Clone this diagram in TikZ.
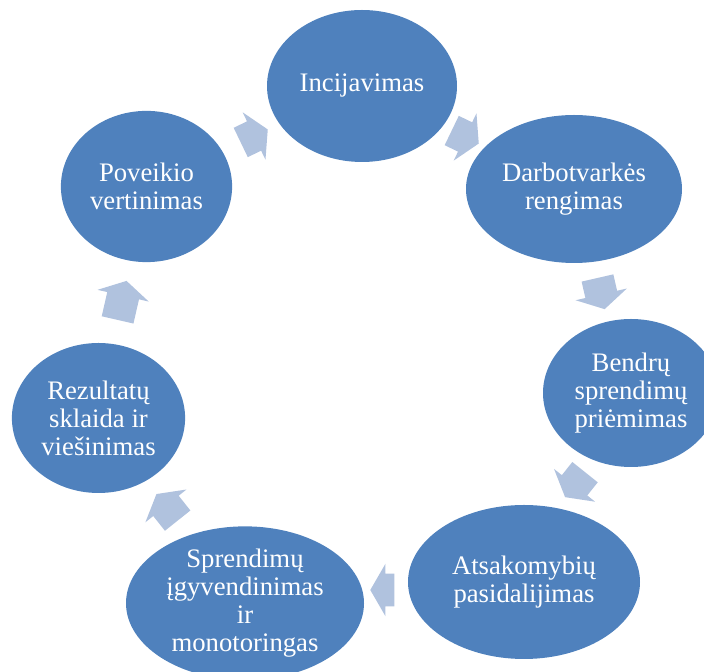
\documentclass[tikz,border=0pt]{standalone}
\usepackage{fontspec}
\setmainfont{Liberation Serif}
\usetikzlibrary{shapes.geometric,shapes.arrows}
\definecolor{stageBlue}{RGB}{79,129,189}
\definecolor{flowArrow}{RGB}{176,194,222}

\begin{document}
\begin{tikzpicture}[
  st/.style={ellipse, fill=stageBlue, inner sep=0pt, text=white, align=center,
             font=\fontsize{19}{20}\selectfont},
  fw/.style={single arrow, fill=flowArrow, inner xsep=0pt, inner ysep=0.4cm,
             minimum width=1.3cm, single arrow head extend=0.25cm,
             single arrow tip angle=120},
]
\useasboundingbox (0,0) rectangle (17.6,16.8);
\clip (0,0) rectangle (17.6,16.8);

% ============ stages, clockwise from the top ============
\node[st, minimum width=4.75cm, minimum height=3.8cm]  (s1) at (9.05,14.65)   {Incijavimas};
\node[st, minimum width=5.4cm,  minimum height=3.7cm]  (s2) at (14.35,12.075)  {Darbotvarkės\\rengimas};
\node[st, minimum width=4.4cm,  minimum height=3.7cm]  (s3) at (15.775,6.975)  {Bendrų\\sprendimų\\priėmimas};
\node[st, minimum width=5.8cm,  minimum height=3.85cm] (s4) at (13.1,2.25)     {Atsakomybių\\pasidalijimas};
\node[st, minimum width=5.95cm, minimum height=3.8cm]  (s5) at (6.125,1.72)    {Sprendimų\\įgyvendinimas\\ir\\monotoringas};
\node[st, minimum width=4.33cm, minimum height=3.75cm] (s6) at (2.4625,6.35)   {Rezultatų\\sklaida ir\\viešinimas};
\node[st, minimum width=4.28cm, minimum height=3.78cm] (s7) at (3.6625,12.1375) {Poveikio\\vertinimas};

% ============ block arrows between the stages ============
\node[fw, minimum height=0.75cm, rotate=25.7]   (a71) at (6.25,13.35)   {};
\node[fw, minimum height=0.75cm, rotate=-25.7]  (a12) at (11.525,13.425) {};
\node[fw, minimum height=0.8cm,  rotate=-77.1]  (a23) at (15.0,9.575)   {};
\node[fw, minimum height=0.8cm,  rotate=-128.6] (a34) at (14.45,4.775)  {};
\node[fw, minimum height=0.6cm,  rotate=180]    (a45) at (9.675,2.05)   {};
\node[fw, minimum height=0.85cm, rotate=128.6]  (a56) at (4.25,4.025)   {};
\node[fw, minimum height=1.0cm,  rotate=77.1]   (a67) at (3.025,9.175)  {};

\end{tikzpicture}
\end{document}
